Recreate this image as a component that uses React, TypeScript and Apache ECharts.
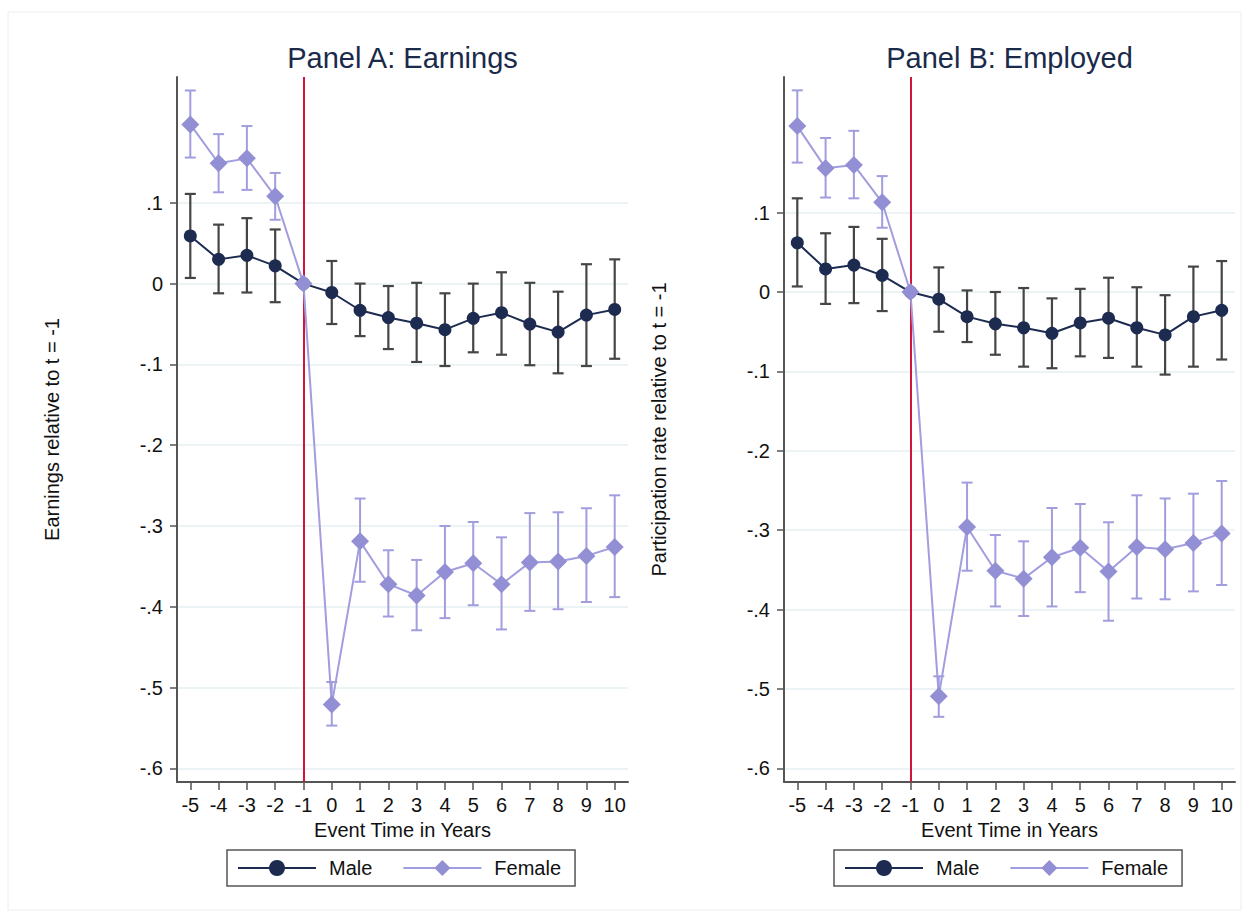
import React, { useEffect, useRef } from "react";
import * as echarts from "echarts";

// ---------- data ----------
const eventTime = [-5, -4, -3, -2, -1, 0, 1, 2, 3, 4, 5, 6, 7, 8, 9, 10];
const yTicks = [-0.6, -0.5, -0.4, -0.3, -0.2, -0.1, 0, 0.1];
const seriesNames = ["Male", "Female"];
const panelTitles = ["Panel A: Earnings", "Panel B: Employed"];
const yAxisTitles = ["Earnings relative to t = -1", "Participation rate relative to t = -1"];
const xAxisTitle = "Event Time in Years";

// Panel A: Earnings
const earnMale = [0.059, 0.030, 0.035, 0.022, 0, -0.011, -0.033, -0.042, -0.049, -0.057, -0.043, -0.036, -0.050, -0.060, -0.039, -0.032];
const earnMaleLo = [0.007, -0.012, -0.011, -0.023, null, -0.050, -0.065, -0.081, -0.097, -0.102, -0.085, -0.088, -0.101, -0.111, -0.102, -0.093];
const earnMaleHi = [0.111, 0.073, 0.081, 0.067, null, 0.028, 0.000, -0.003, 0.001, -0.012, 0.000, 0.014, 0.001, -0.010, 0.024, 0.030];
const earnFemale = [0.197, 0.149, 0.155, 0.108, 0, -0.521, -0.319, -0.372, -0.386, -0.357, -0.346, -0.372, -0.345, -0.344, -0.337, -0.326];
const earnFemaleLo = [0.156, 0.113, 0.116, 0.079, null, -0.547, -0.369, -0.412, -0.429, -0.414, -0.398, -0.428, -0.405, -0.403, -0.394, -0.388];
const earnFemaleHi = [0.239, 0.185, 0.195, 0.137, null, -0.493, -0.266, -0.330, -0.342, -0.300, -0.295, -0.314, -0.284, -0.283, -0.278, -0.262];

// Panel B: Employed
const empMale = [0.062, 0.029, 0.034, 0.021, 0, -0.009, -0.031, -0.040, -0.045, -0.052, -0.039, -0.033, -0.045, -0.054, -0.031, -0.023];
const empMaleLo = [0.007, -0.015, -0.014, -0.024, null, -0.050, -0.063, -0.079, -0.094, -0.096, -0.081, -0.083, -0.094, -0.104, -0.094, -0.085];
const empMaleHi = [0.118, 0.074, 0.082, 0.067, null, 0.031, 0.002, 0.000, 0.005, -0.008, 0.004, 0.018, 0.006, -0.004, 0.032, 0.039];
const empFemale = [0.209, 0.156, 0.160, 0.113, 0, -0.509, -0.296, -0.351, -0.361, -0.334, -0.322, -0.352, -0.321, -0.324, -0.316, -0.304];
const empFemaleLo = [0.163, 0.119, 0.118, 0.081, null, -0.535, -0.351, -0.396, -0.408, -0.396, -0.378, -0.414, -0.386, -0.387, -0.377, -0.369];
const empFemaleHi = [0.254, 0.194, 0.203, 0.146, null, -0.484, -0.240, -0.306, -0.314, -0.272, -0.267, -0.290, -0.256, -0.260, -0.254, -0.238];

const eventLine = -1;

// ---------- styles ----------
const FONT = "'Liberation Sans', Arial, sans-serif";
const MALE = "#1c2b4f";
const MALE_CI = "#454545";
const FEMALE = "#938fd4";
const FEMALE_LINE = "#a19dde";
const RED = "#d0143a";
const AXIS = "#555555";
const GRID = "#e6eff1";

const grids = [
  { left: 177, top: 77, width: 451, height: 705, yMin: -0.6168, yMax: 0.2557 },
  { left: 784, top: 77, width: 451, height: 705, yMin: -0.6171, yMax: 0.2708 },
];

function fmtY(v: number) {
  if (Math.abs(v) < 1e-9) return "0";
  const s = Math.abs(v).toFixed(1).replace(/^0/, "");
  return (v < 0 ? "-" : "") + s;
}

function ciData(lo: (number | null)[], hi: (number | null)[]) {
  const out: number[][] = [];
  eventTime.forEach((t, i) => {
    if (lo[i] != null && hi[i] != null) out.push([t, lo[i] as number, hi[i] as number]);
  });
  return out;
}

function errorBarSeries(name: string, gi: number, data: number[][], color: string, width: number) {
  return {
    type: "custom",
    name,
    xAxisIndex: gi,
    yAxisIndex: gi,
    z: 3,
    silent: true,
    encode: { x: 0, y: [1, 2] },
    data,
    renderItem: (params: any, api: any) => {
      const x = api.value(0);
      const lo = api.value(1);
      const hi = api.value(2);
      const p1 = api.coord([x, hi]);
      const p2 = api.coord([x, lo]);
      const hw = 5.5;
      const style = { stroke: color, lineWidth: width, fill: "none" };
      return {
        type: "group",
        children: [
          { type: "line", shape: { x1: p1[0], y1: p1[1], x2: p2[0], y2: p2[1] }, style },
          { type: "line", shape: { x1: p1[0] - hw, y1: p1[1], x2: p1[0] + hw, y2: p1[1] }, style },
          { type: "line", shape: { x1: p2[0] - hw, y1: p2[1], x2: p2[0] + hw, y2: p2[1] }, style },
        ],
      };
    },
  };
}

function lineSeries(name: string, gi: number, vals: number[], isMale: boolean) {
  return {
    type: "line",
    name,
    xAxisIndex: gi,
    yAxisIndex: gi,
    z: isMale ? 4 : 5,
    data: eventTime.map((t, i) => [t, vals[i]]),
    symbol: isMale ? "circle" : "diamond",
    symbolSize: isMale ? 13 : 18,
    showSymbol: true,
    lineStyle: { color: isMale ? MALE : FEMALE_LINE, width: 2 },
    itemStyle: { color: isMale ? MALE : FEMALE },
    emphasis: { disabled: true },
  };
}

function redLineSeries(gi: number) {
  return {
    type: "line",
    name: "event",
    xAxisIndex: gi,
    yAxisIndex: gi,
    data: [],
    z: 2,
    markLine: {
      silent: true,
      symbol: "none",
      label: { show: false },
      lineStyle: { color: RED, width: 2, type: "solid" },
      data: [{ xAxis: eventLine }],
    },
  };
}

export default function App() {
  const ref = useRef<HTMLDivElement>(null);
  useEffect(() => {
    if (!ref.current) return;
    const chart = echarts.init(ref.current, undefined, { renderer: "svg" });

    const xAxes = grids.map((g, gi) => ({
      type: "value",
      gridIndex: gi,
      min: -5.47,
      max: 10.47,
      name: xAxisTitle,
      nameLocation: "middle",
      nameGap: 36,
      nameTextStyle: { fontSize: 20, color: "#111", fontFamily: FONT },
      axisLine: { show: true, onZero: false, lineStyle: { color: AXIS, width: 2 } },
      axisTick: { show: true, inside: false, length: 8, customValues: eventTime, lineStyle: { color: AXIS, width: 1.5 } },
      axisLabel: {
        customValues: eventTime,
        formatter: (v: number) => String(v),
        fontSize: 20,
        color: "#111",
        fontFamily: FONT,
        margin: 13,
      },
      splitLine: { show: false },
    }));

    const yAxes = grids.map((g, gi) => ({
      type: "value",
      gridIndex: gi,
      min: g.yMin,
      max: g.yMax,
      name: yAxisTitles[gi],
      nameLocation: "middle",
      nameGap: 115,
      nameRotate: 90,
      nameTextStyle: { fontSize: 20, color: "#111", fontFamily: FONT },
      axisLine: { show: true, onZero: false, lineStyle: { color: AXIS, width: 2 } },
      axisTick: { show: true, inside: false, length: 7, customValues: yTicks, lineStyle: { color: AXIS, width: 1.5 } },
      axisLabel: {
        customValues: yTicks,
        formatter: (v: number) => fmtY(v),
        fontSize: 20,
        color: "#111",
        fontFamily: FONT,
        margin: 14,
      },
      splitLine: { show: true, lineStyle: { color: GRID, width: 1.5 } },
    }));

    const legends = grids.map((g, gi) => ({
      left: gi === 0 ? 227 : 834,
      top: 850,
      orient: "horizontal",
      data: seriesNames,
      padding: [8, 14, 8, 10],
      itemGap: 30,
      itemWidth: 78,
      itemHeight: 20,
      borderColor: "#555",
      borderWidth: 1.5,
      borderRadius: 0,
      selectedMode: false,
      textStyle: { fontSize: 20, color: "#111", fontFamily: FONT, padding: [0, 0, 0, 8] },
    }));

    const series: any[] = [
      redLineSeries(0),
      errorBarSeries("Male CI A", 0, ciData(earnMaleLo, earnMaleHi), MALE_CI, 2.2),
      errorBarSeries("Female CI A", 0, ciData(earnFemaleLo, earnFemaleHi), FEMALE_LINE, 2),
      lineSeries("Male", 0, earnMale, true),
      lineSeries("Female", 0, earnFemale, false),
      redLineSeries(1),
      errorBarSeries("Male CI B", 1, ciData(empMaleLo, empMaleHi), MALE_CI, 2.2),
      errorBarSeries("Female CI B", 1, ciData(empFemaleLo, empFemaleHi), FEMALE_LINE, 2),
      lineSeries("Male", 1, empMale, true),
      lineSeries("Female", 1, empFemale, false),
    ];

    chart.setOption({
      animation: false,
      backgroundColor: "#ffffff",
      textStyle: { fontFamily: FONT },
      grid: grids.map((g) => ({ left: g.left, top: g.top, width: g.width, height: g.height })),
      xAxis: xAxes,
      yAxis: yAxes,
      legend: legends,
      graphic: [
        {
          type: "rect",
          shape: { x: 8, y: 12, width: 1233, height: 898 },
          style: { fill: "none", stroke: "#eeeeee", lineWidth: 1 },
          silent: true,
          z: -10,
        },
        ...grids.map((g, gi) => ({
          type: "text",
          x: g.left + g.width / 2,
          y: 58,
          style: {
            text: panelTitles[gi],
            fontSize: 29,
            fontFamily: FONT,
            fill: "#1a2a4a",
            align: "center",
            verticalAlign: "middle",
          },
        })),
      ],
      series,
    });

    return () => chart.dispose();
  }, []);

  return (
    <div
      ref={ref}
      style={{ position: "absolute", left: 0, top: 0, width: 1249, height: 920 }}
    />
  );
}
